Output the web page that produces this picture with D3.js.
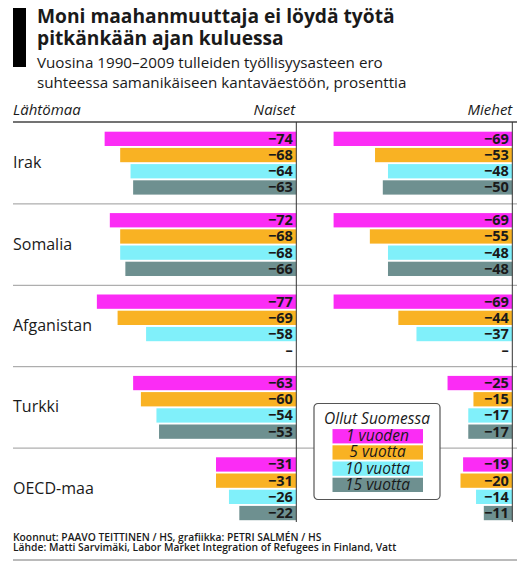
<!DOCTYPE html>
<html lang="fi">
<head>
  <meta charset="UTF-8" />
  <title>Moni maahanmuuttaja ei löydä työtä</title>
  <script src="https://cdnjs.cloudflare.com/ajax/libs/d3/7.8.5/d3.min.js"></script>
  <style>
    body { margin: 0; background: #fff; }
    text { font-family: 'Open Sans', sans-serif; fill: #1a1a1a; }
  </style>
</head>
<body>
  <svg width="517" height="567"></svg>

  <script>
    // lähtömaat ja ajat
    const countries = ['Irak', 'Somalia', 'Afganistan', 'Turkki', 'OECD-maa'];
    const periods = ['1 vuoden', '5 vuotta', '10 vuotta', '15 vuotta'];
    // työllisyysasteen ero, prosenttia (null = ei tietoa)
    const naiset = [
      [-74, -68, -64, -63],
      [-72, -68, -68, -66],
      [-77, -69, -58, null],
      [-63, -60, -54, -53],
      [-31, -31, -26, -22],
    ];
    const miehet = [
      [-69, -53, -48, -50],
      [-69, -55, -48, -48],
      [-69, -44, -37, null],
      [-25, -15, -17, -17],
      [-19, -20, -14, -11],
    ];
    const colors = ['#fb2cf5', '#f9b223', '#80f0fa', '#6e9090'];

    const svg = d3.select('svg');
    const W = +svg.attr('width');

    // otsikko
    svg.append('rect').attr('x', 13).attr('y', 8).attr('width', 13).attr('height', 59).attr('fill', '#000');
    const title = ['Moni maahanmuuttaja ei löydä työtä', 'pitkänkään ajan kuluessa'];
    title.forEach((t, i) => {
      svg.append('text').attr('x', 37).attr('y', 22.5 + i * 22)
        .style('font-size', '19.2px').style('font-weight', 700).text(t);
    });
    const sub = ['Vuosina 1990–2009 tulleiden työllisyysasteen ero',
      'suhteessa samanikäiseen kantaväestöön, prosenttia'];
    sub.forEach((t, i) => {
      svg.append('text').attr('x', 37).attr('y', 67.5 + i * 20)
        .style('font-size', '15.2px').text(t);
    });

    const chartTop = 122, chartBottom = 529;
    const zeroL = 296.3, zeroR = 512.3;

    const xL = d3.scaleLinear().domain([-100, 0]).range([zeroL - 259, zeroL]);
    const xR = d3.scaleLinear().domain([-100, 0]).range([zeroR - 259, zeroR]);
    const yG = d3.scaleBand().domain(countries).range([chartTop, chartBottom]);
    const yP = d3.scaleBand().domain(periods).range([7.8, 74.5]).padding(0.117);

    // otsakkeet
    const head = svg.append('g').style('font-size', '15px').style('font-style', 'italic');
    head.append('text').attr('x', 13).attr('y', 115).text('Lähtömaa');
    head.append('text').attr('x', zeroL - 1).attr('y', 115).attr('text-anchor', 'end').text('Naiset');
    head.append('text').attr('x', zeroR).attr('y', 115).attr('text-anchor', 'end').text('Miehet');

    // erotinviivat
    svg.append('g').selectAll('line')
      .data(countries.slice(1))
      .enter().append('line')
      .attr('x1', 13).attr('x2', W)
      .attr('y1', (d) => yG(d) + 0.5).attr('y2', (d) => yG(d) + 0.5)
      .attr('stroke', '#9a9a9a').attr('stroke-width', 1);
    svg.append('line').attr('x1', 13).attr('x2', W).attr('y1', chartTop).attr('y2', chartTop)
      .attr('stroke', '#444').attr('stroke-width', 1.6);

    // maiden nimet
    svg.append('g').selectAll('text')
      .data(countries)
      .enter().append('text')
      .attr('x', 13)
      .attr('y', (d) => yG(d) + yG.bandwidth() / 2 + 5.5)
      .style('font-size', '16px')
      .text((d) => d);

    const fmt = (v) => (v == null ? '–' : '−' + Math.abs(v));

    function panel(data, x) {
      const g = svg.append('g');
      const rows = [];
      data.forEach((vals, ci) => vals.forEach((v, pi) => rows.push({ c: countries[ci], p: periods[pi], pi, v })));
      g.selectAll('rect')
        .data(rows.filter((d) => d.v != null))
        .enter().append('rect')
        .attr('x', (d) => x(d.v))
        .attr('y', (d) => yG(d.c) + yP(d.p))
        .attr('width', (d) => x(0) - x(d.v))
        .attr('height', yP.bandwidth())
        .attr('fill', (d) => colors[d.pi]);
      g.selectAll('text')
        .data(rows)
        .enter().append('text')
        .attr('x', x(0) - 3.5)
        .attr('y', (d) => yG(d.c) + yP(d.p) + yP.bandwidth() / 2 + 5)
        .attr('text-anchor', 'end')
        .style('font-size', '14.5px')
        .style('font-weight', 700)
        .text((d) => fmt(d.v));
      g.append('line')
        .attr('x1', x(0)).attr('x2', x(0))
        .attr('y1', chartTop).attr('y2', 522)
        .attr('stroke', '#333').attr('stroke-width', 1);
    }
    panel(naiset, xL);
    panel(miehet, xR);

    // selite
    const lg = svg.append('g').attr('transform', 'translate(314,403.5)');
    lg.append('rect').attr('width', 126).attr('height', 96).attr('rx', 4)
      .attr('fill', '#fff').attr('stroke', '#555').attr('stroke-width', 1.2);
    lg.append('text').attr('x', 63).attr('y', 20).attr('text-anchor', 'middle')
      .style('font-size', '15.5px').style('font-style', 'italic').text('Ollut Suomessa');
    const ly = d3.scaleBand().domain(periods).range([23.7, 90.4]).padding(0.117);
    lg.selectAll('rect.sw')
      .data(periods)
      .enter().append('rect')
      .attr('class', 'sw')
      .attr('x', 18.5).attr('width', 90.5)
      .attr('y', (d) => ly(d)).attr('height', ly.bandwidth())
      .attr('fill', (d, i) => colors[i]);
    lg.selectAll('text.lab')
      .data(periods)
      .enter().append('text')
      .attr('class', 'lab')
      .attr('x', 63.5)
      .attr('y', (d) => ly(d) + ly.bandwidth() / 2 + 5)
      .attr('text-anchor', 'middle')
      .style('font-size', '15.5px').style('font-style', 'italic')
      .text((d) => d);

    // lähteet
    const src = ['Koonnut: PAAVO TEITTINEN / HS, grafiikka: PETRI SALMÉN / HS',
      'Lähde: Matti Sarvimäki, Labor Market Integration of Refugees in Finland, Vatt'];
    src.forEach((t, i) => {
      svg.append('text').attr('x', 13).attr('y', 540.5 + i * 10.5)
        .style('font-size', '10.3px').style('font-weight', 600).text(t);
    });
    svg.append('line').attr('x1', 13).attr('x2', W).attr('y1', 560).attr('y2', 560)
      .attr('stroke', '#777').attr('stroke-width', 1);
  </script>
</body>
</html>
